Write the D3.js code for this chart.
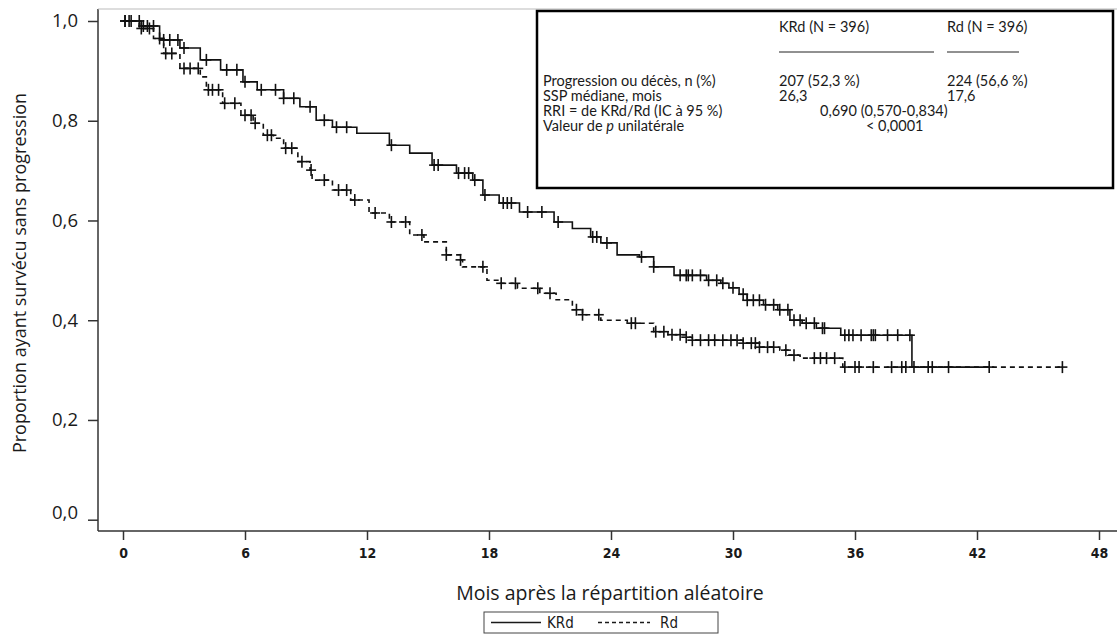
<!DOCTYPE html>
<html>
<head>
<meta charset="utf-8">
<script src="https://cdn.jsdelivr.net/npm/d3@7"></script>
<style>
  body { margin: 0; background: #fff; }
  text { fill: #1a1a1a; }
</style>
</head>
<body>
<div id="chart"></div>
<script>
// Kaplan-Meier step values (months, proportion)
const krdTime = [0, 0.9, 1.8, 2.8, 3.8, 4.8, 5.9, 6.6, 7.9, 8.7, 9.5, 10.3, 11.5, 13.1, 14.1, 15.2, 16.4, 17.2, 17.7, 18.5, 19.5, 21.2, 22.1, 23.0, 23.5, 24.3, 25.4, 26.1, 27.1, 28.7, 29.4, 29.8, 30.3, 30.7, 31.5, 32.2, 32.8, 33.4, 34.1, 35.3, 38.8];
const krdSurv = [1.0, 0.99, 0.962, 0.946, 0.922, 0.902, 0.878, 0.862, 0.845, 0.828, 0.801, 0.787, 0.775, 0.751, 0.735, 0.711, 0.695, 0.681, 0.651, 0.635, 0.617, 0.597, 0.584, 0.567, 0.555, 0.531, 0.527, 0.507, 0.490, 0.480, 0.474, 0.465, 0.452, 0.440, 0.431, 0.421, 0.400, 0.394, 0.384, 0.370, 0.306];
const krdCensor = [0.1, 0.3, 0.8, 1.0, 1.2, 1.5, 2.0, 2.3, 2.7, 3.0, 4.1, 5.1, 5.6, 6.0, 6.8, 7.5, 7.9, 8.4, 9.2, 9.9, 10.5, 11.0, 13.2, 15.3, 15.5, 16.5, 16.8, 17.0, 17.3, 17.8, 18.7, 18.9, 19.1, 19.9, 20.6, 21.4, 23.1, 23.3, 23.8, 25.5, 26.1, 27.4, 27.7, 27.8, 28.0, 28.4, 28.8, 29.2, 29.5, 30.0, 30.5, 30.7, 31.0, 31.3, 31.6, 32.0, 32.3, 32.7, 33.0, 33.3, 33.6, 34.0, 34.4, 34.5, 35.5, 35.7, 35.9, 36.3, 36.8, 36.9, 37.0, 37.6, 38.1, 38.7, 42.6];

const rdTime = [0, 0.8, 1.5, 2.0, 2.8, 3.8, 4.1, 4.9, 5.8, 6.4, 6.9, 7.4, 7.9, 8.6, 9.2, 9.3, 10.3, 11.2, 12.1, 13.1, 14.1, 14.8, 15.9, 16.6, 16.7, 17.9, 18.5, 19.4, 20.5, 21.3, 22.1, 22.6, 23.5, 24.8, 26.1, 26.8, 27.7, 28.0, 30.5, 31.3, 32.3, 32.7, 33.3, 35.4];
const rdSurv = [1.0, 0.985, 0.965, 0.935, 0.905, 0.888, 0.862, 0.835, 0.811, 0.795, 0.771, 0.765, 0.745, 0.718, 0.701, 0.681, 0.661, 0.641, 0.615, 0.597, 0.571, 0.557, 0.531, 0.521, 0.507, 0.480, 0.474, 0.464, 0.454, 0.441, 0.421, 0.411, 0.400, 0.394, 0.377, 0.371, 0.366, 0.360, 0.354, 0.346, 0.340, 0.330, 0.324, 0.306];
const rdCensor = [0.1, 0.4, 0.9, 1.3, 1.8, 2.1, 2.4, 3.0, 3.3, 3.7, 4.2, 4.4, 4.7, 5.0, 5.5, 6.0, 6.3, 6.5, 7.1, 7.3, 8.0, 8.3, 8.8, 9.25, 9.9, 10.6, 11.0, 11.4, 12.4, 13.2, 13.9, 14.7, 15.9, 16.6, 17.7, 18.6, 19.3, 20.4, 21.0, 22.3, 22.6, 23.4, 25.0, 25.2, 26.2, 26.6, 27.0, 27.4, 27.7, 28.0, 28.4, 28.8, 29.1, 29.5, 29.9, 30.2, 30.5, 30.9, 31.1, 31.3, 31.7, 32.0, 32.6, 33.0, 34.0, 34.3, 34.6, 35.0, 35.5, 36.0, 36.2, 36.9, 37.8, 38.3, 38.5, 38.9, 39.6, 39.8, 40.6, 46.2];

const xTicks = [0, 6, 12, 18, 24, 30, 36, 42, 48];
const yTicks = [0, 0.2, 0.4, 0.6, 0.8, 1.0];

const tableHead = ["KRd (N = 396)", "Rd (N = 396)"];
const tableLabels = ["Progression ou décès, n (%)", "SSP médiane, mois", "RRI = de KRd/Rd (IC à 95 %)", "Valeur de p unilatérale"];
const krdValues = ["207 (52,3 %)", "26,3"];
const rdValues = ["224 (56,6 %)", "17,6"];
const hrText = "0,690 (0,570-0,834)";
const pText = "< 0,0001";

const width = 1117, height = 639;

const svg = d3.select("#chart")
  .append("svg")
  .attr("width", width)
  .attr("height", height);

const x = d3.scaleLinear().domain([0, 48]).range([123, 1099]);
const y = d3.scaleLinear().domain([0, 1]).range([519.7, 21]);

const axisX = 98, axisY = 531;

// frame lines
svg.append("line")
  .attr("x1", axisX).attr("x2", width)
  .attr("y1", axisY).attr("y2", axisY)
  .attr("stroke", "#333").attr("stroke-width", 1.5);
svg.append("line")
  .attr("x1", axisX).attr("x2", axisX)
  .attr("y1", 9).attr("y2", axisY)
  .attr("stroke", "#333").attr("stroke-width", 1.5);
svg.append("line")
  .attr("x1", axisX).attr("x2", width)
  .attr("y1", 9).attr("y2", 9)
  .attr("stroke", "#bbb").attr("stroke-width", 1);

// x axis
const gx = svg.append("g")
  .attr("transform", `translate(0, ${axisY})`)
  .call(d3.axisBottom(x).tickValues(xTicks).tickSize(9).tickPadding(8).tickFormat(d3.format("d")));
gx.select(".domain").remove();
gx.selectAll(".tick line").attr("stroke", "#333").attr("stroke-width", 1.5);
gx.selectAll(".tick text")
  .style("font-family", "'Liberation Sans Narrow', 'DejaVu Sans Condensed', sans-serif")
  .style("font-size", "14px")
  .style("font-weight", "bold")
  .attr("fill", "#222");

// y axis
const gy = svg.append("g")
  .attr("transform", `translate(${axisX}, 0)`)
  .call(d3.axisLeft(y).tickValues(yTicks).tickSize(10).tickPadding(10).tickFormat(d => d3.format(".1f")(d).replace(".", ",")));
gy.select(".domain").remove();
gy.selectAll(".tick line").attr("stroke", "#333").attr("stroke-width", 1.5);
gy.selectAll(".tick text")
  .style("font-family", "'Open Sans', sans-serif")
  .style("font-size", "18.5px")
  .attr("fill", "#1a1a1a")
  .attr("y", d => d === 0 ? -7 : 0);

// axis titles
svg.append("text")
  .attr("x", 610)
  .attr("y", 600)
  .attr("text-anchor", "middle")
  .style("font-family", "'Open Sans', sans-serif")
  .style("font-size", "19.5px")
  .text("Mois après la répartition aléatoire");

svg.append("text")
  .attr("transform", "rotate(-90)")
  .attr("x", -273)
  .attr("y", 26)
  .attr("text-anchor", "middle")
  .style("font-family", "'Open Sans', sans-serif")
  .style("font-size", "18px")
  .text("Proportion ayant survécu sans progression");

// step curves
function stepPoints(times, surv, end) {
  const pts = times.map((t, i) => [t, surv[i]]);
  pts.push([end, surv[surv.length - 1]]);
  return pts;
}

function survAt(times, surv, t) {
  let s = surv[0];
  for (let i = 0; i < times.length; i++) {
    if (times[i] <= t) s = surv[i];
  }
  return s;
}

const line = d3.line()
  .x(d => x(d[0]))
  .y(d => y(d[1]))
  .curve(d3.curveStepAfter);

const series = [
  { name: "Rd", times: rdTime, surv: rdSurv, censor: rdCensor, dash: "5,4" },
  { name: "KRd", times: krdTime, surv: krdSurv, censor: krdCensor, dash: null }
];

series.forEach(s => {
  const end = s.censor[s.censor.length - 1];
  svg.append("path")
    .datum(stepPoints(s.times, s.surv, end))
    .attr("fill", "none")
    .attr("stroke", "#111")
    .attr("stroke-width", 1.6)
    .attr("stroke-dasharray", s.dash)
    .attr("d", line);

  const marks = svg.append("g")
    .attr("stroke", "#111")
    .attr("stroke-width", 1.6);
  s.censor.forEach(t => {
    const cx = x(t), cy = y(survAt(s.times, s.surv, t));
    marks.append("line").attr("x1", cx).attr("x2", cx).attr("y1", cy - 6).attr("y2", cy + 6);
    marks.append("line").attr("x1", cx - 5).attr("x2", cx + 5).attr("y1", cy).attr("y2", cy);
  });
});

// stats box
const box = svg.append("g");
box.append("rect")
  .attr("x", 537).attr("y", 11)
  .attr("width", 576).attr("height", 177)
  .attr("fill", "#fff")
  .attr("stroke", "#000")
  .attr("stroke-width", 2.5);

const boxFont = "Lato, 'Open Sans', sans-serif";
const boxSize = "14.5px";
const col1 = 543, col2 = 779, col3 = 947;
const rowY = [86, 101, 116, 131];

box.selectAll(".head")
  .data(tableHead)
  .enter().append("text")
  .attr("x", (d, i) => i === 0 ? col2 : col3)
  .attr("y", 32)
  .style("font-family", boxFont)
  .style("font-size", boxSize)
  .text(d => d);

box.append("line").attr("x1", col2).attr("x2", 934).attr("y1", 52).attr("y2", 52).attr("stroke", "#222");
box.append("line").attr("x1", col3).attr("x2", 1019).attr("y1", 52).attr("y2", 52).attr("stroke", "#222");

box.selectAll(".lab")
  .data(tableLabels)
  .enter().append("text")
  .attr("x", col1)
  .attr("y", (d, i) => rowY[i])
  .style("font-family", boxFont)
  .style("font-size", boxSize)
  .each(function (d) {
    const t = d3.select(this);
    if (d.includes(" p ")) {
      const parts = d.split(" p ");
      t.append("tspan").text(parts[0] + " ");
      t.append("tspan").style("font-style", "italic").text("p");
      t.append("tspan").text(" " + parts[1]);
    } else {
      t.text(d);
    }
  });

krdValues.forEach((v, i) => {
  box.append("text").attr("x", col2).attr("y", rowY[i])
    .style("font-family", boxFont).style("font-size", boxSize).text(v);
});
rdValues.forEach((v, i) => {
  box.append("text").attr("x", col3).attr("y", rowY[i])
    .style("font-family", boxFont).style("font-size", boxSize).text(v);
});
box.append("text").attr("x", 820).attr("y", rowY[2])
  .style("font-family", boxFont).style("font-size", boxSize).text(hrText);
box.append("text").attr("x", 866).attr("y", rowY[3])
  .style("font-family", boxFont).style("font-size", boxSize).text(pText);

// bottom legend
const legend = svg.append("g");
legend.append("rect")
  .attr("x", 484).attr("y", 612)
  .attr("width", 234).attr("height", 21)
  .attr("fill", "#fff")
  .attr("stroke", "#444");

const legendItems = [
  { name: "KRd", x1: 491, x2: 541, tx: 547, dash: null },
  { name: "Rd", x1: 598, x2: 650, tx: 660, dash: "4,3" }
];
legendItems.forEach(d => {
  legend.append("line")
    .attr("x1", d.x1).attr("x2", d.x2)
    .attr("y1", 622.5).attr("y2", 622.5)
    .attr("stroke", "#1a1a1a")
    .attr("stroke-width", 1.3)
    .attr("stroke-dasharray", d.dash);
  legend.append("text")
    .attr("x", d.tx).attr("y", 628)
    .style("font-family", "'Liberation Sans Narrow', 'DejaVu Sans Condensed', sans-serif")
    .style("font-size", "15px")
    .text(d.name);
});
</script>
</body>
</html>
